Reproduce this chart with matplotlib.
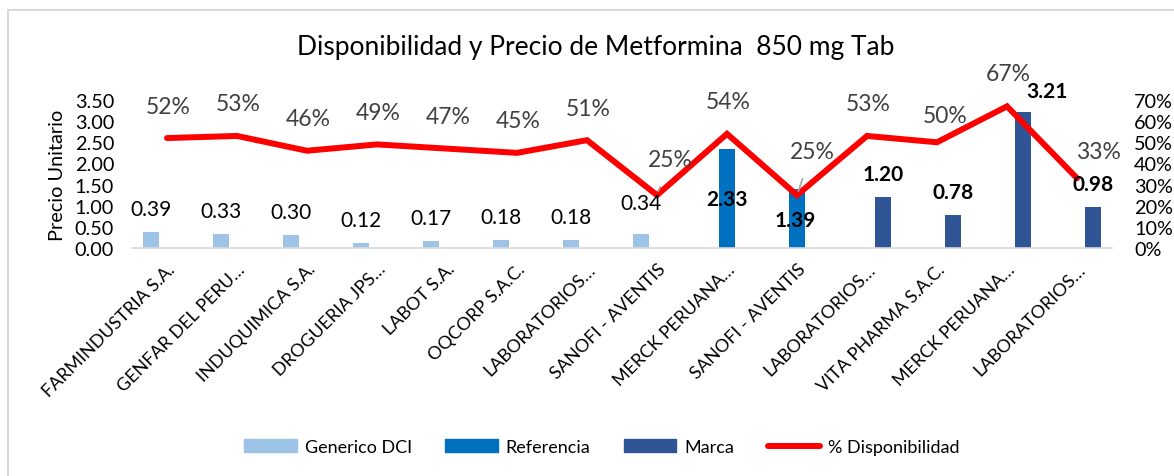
import matplotlib
matplotlib.use("Agg")
import matplotlib.pyplot as plt
import numpy as np
from matplotlib.lines import Line2D
from matplotlib.patches import Patch

plt.rcParams['font.family'] = ['Lato', 'DejaVu Sans']

categories = ["FARMINDUSTRIA S.A.", "GENFAR DEL PERU…", "INDUQUIMICA S.A.", "DROGUERIA JPS…",
              "LABOT S.A.", "OQCORP S.A.C.", "LABORATORIOS…", "SANOFI - AVENTIS",
              "MERCK PERUANA…", "SANOFI - AVENTIS", "LABORATORIOS…", "VITA PHARMA S.A.C.",
              "MERCK PERUANA…", "LABORATORIOS…"]
generico = [0.39, 0.33, 0.30, 0.12, 0.17, 0.18, 0.18, 0.34, None, None, None, None, None, None]
referencia = [None]*8 + [2.33, 1.39] + [None]*4
marca = [None]*10 + [1.20, 0.78, 3.21, 0.98]
disponibilidad = [0.52, 0.53, 0.46, 0.49, 0.47, 0.45, 0.51, 0.25, 0.54, 0.25, 0.53, 0.50, 0.67, 0.33]

W, H = 1174, 477
fig = plt.figure(figsize=(W/100, H/100), dpi=100)
ax = fig.add_axes([132/W, 1-249/H, 980/W, 148/H])
ax2 = ax.twinx()

x = np.arange(len(categories))
bw = 0.225
c_gen, c_ref, c_mar = '#9DC3E6', '#0070C0', '#2F5597'

def vals(s):
    return np.array([np.nan if v is None else v for v in s], dtype=float)

ax.bar(x - bw, vals(generico), bw, color=c_gen)
ax.bar(x, vals(referencia), bw, color=c_ref)
ax.bar(x + bw, vals(marca), bw, color=c_mar)

ax2.plot(x, disponibilidad, color='#FF0000', lw=4.3, solid_capstyle='round', solid_joinstyle='miter')

ax.set_xlim(-0.5, len(categories)-0.5)
ax.set_ylim(0, 3.5)
ax2.set_ylim(0, 0.7)
ax.set_yticks(np.arange(0, 3.51, 0.5))
ax.set_yticklabels([f"{v:.2f}" for v in np.arange(0, 3.51, 0.5)])
ax2.set_yticks(np.arange(0, 0.71, 0.1))
ax2.set_yticklabels([f"{int(round(v*100))}%" for v in np.arange(0, 0.71, 0.1)])
for a in (ax, ax2):
    for s in a.spines.values():
        s.set_visible(False)
ax.spines['bottom'].set_visible(True)
ax.spines['bottom'].set_color('#D9D9D9')
ax.spines['bottom'].set_linewidth(1.2)
ax.tick_params(axis='y', length=0, pad=13, labelsize=14.3, labelcolor='black')
ax2.tick_params(axis='y', length=0, pad=16, labelsize=14.3, labelcolor='black')
ax.set_xticks(x)
ax.set_xticklabels(categories, rotation=45, ha='right', rotation_mode='anchor', fontsize=13)
ax.tick_params(axis='x', length=0, pad=9)
ax.set_ylabel("Precio Unitario", fontsize=14.3, labelpad=6)

# bar labels (offsets in pixels)
def lab(xv, yv, text, dx=0, dy=23, bold=False):
    ax2.annotate(text, xy=(xv, yv), xycoords=ax.transData, xytext=(dx, dy),
                 textcoords='offset pixels', ha='center', va='center', fontsize=15,
                 fontweight='bold' if bold else 'normal', color='black', annotation_clip=False)

gen_off = {7: (0, 31)}
for i, v in enumerate(generico):
    if v is not None:
        dx, dy = gen_off.get(i, (0, 23))
        lab(i - bw, v, f"{v:.2f}", dx, dy)
ref_off = {8: (0, -50), 9: (-2, -31)}
for i, v in enumerate(referencia):
    if v is not None:
        dx, dy = ref_off.get(i, (0, 23))
        lab(i, v, f"{v:.2f}", dx, dy, bold=True)
mar_off = {12: (24, 21)}
for i, v in enumerate(marca):
    if v is not None:
        dx, dy = mar_off.get(i, (0, 23))
        lab(i + bw, v, f"{v:.2f}", dx, dy, bold=True)

pct_off = {7: (13, 36), 9: (15, 44), 11: (8, 27), 13: (21, 27), 12: (1, 33)}
leader = {7, 9}
for i, v in enumerate(disponibilidad):
    dx, dy = pct_off.get(i, (1, 32))
    kw = {}
    if i in leader:
        kw['arrowprops'] = dict(arrowstyle='-', color='#A6A6A6', lw=1.2, shrinkA=11, shrinkB=3)
    ax2.annotate(f"{int(round(v*100))}%", xy=(i, v), xytext=(dx, dy), textcoords='offset pixels',
                 ha='center', va='center', fontsize=16.5, color='#404040', annotation_clip=False, **kw)

fig.text(596/W, 1-48/H, "Disponibilidad y Precio de Metformina  850 mg Tab", ha='center', va='center',
         fontsize=19, color='black')

handles = [Patch(color=c_gen, label='Generico DCI'), Patch(color=c_ref, label='Referencia'),
           Patch(color=c_mar, label='Marca'),
           Line2D([], [], color='#FF0000', lw=4.3, solid_capstyle='round', label='% Disponibilidad')]
fig.legend(handles=handles, loc='center', bbox_to_anchor=(602/W, 1-448/H), ncol=4, frameon=False,
           fontsize=13, handlelength=2.9, handletextpad=0.45, columnspacing=1.85)

# outer chart frame
fig.add_artist(Line2D([8/W, 8/W], [0, 1-11/H], color='#D9D9D9', lw=1.5, transform=fig.transFigure))
fig.add_artist(Line2D([8/W, 1], [1-11/H, 1-11/H], color='#D9D9D9', lw=1.5, transform=fig.transFigure))

fig.savefig("out.png", dpi=100)
